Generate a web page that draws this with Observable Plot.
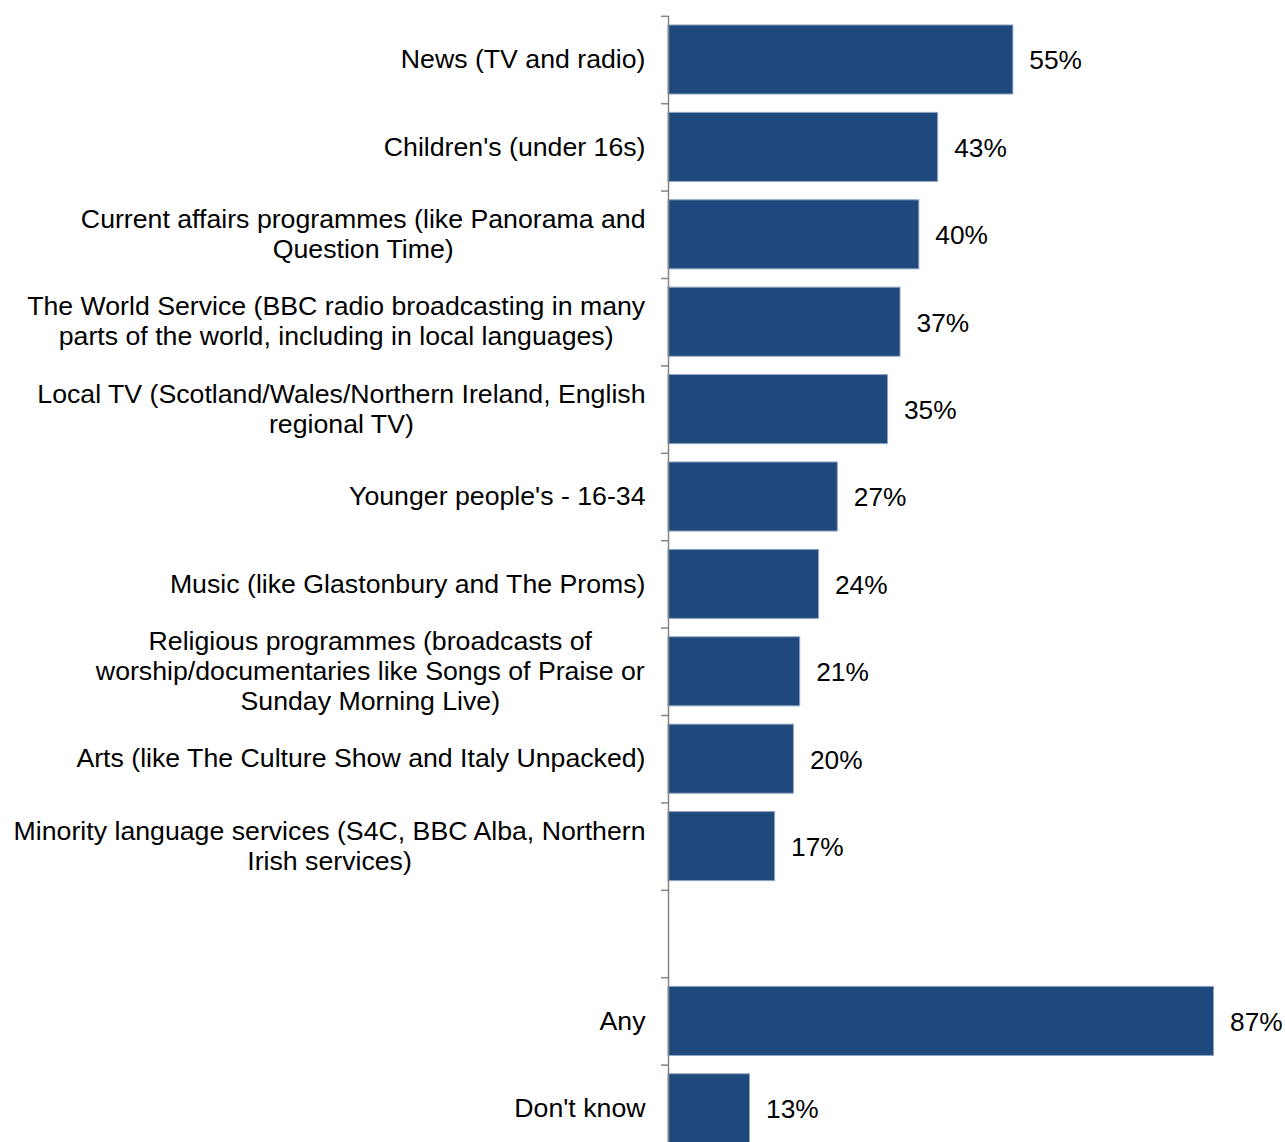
<!DOCTYPE html>
<html><head><meta charset="utf-8">
<script src="https://cdn.jsdelivr.net/npm/d3@7"></script>
<script src="https://cdn.jsdelivr.net/npm/@observablehq/plot@0.6"></script>
<style>html,body{margin:0;padding:0;background:#fff;overflow:hidden}</style>
</head><body><div id="chart"></div>
<script>
const categories = [
  "News (TV and radio)",
  "Children's (under 16s)",
  "Current affairs programmes (like Panorama and\nQuestion Time)",
  "The World Service (BBC radio broadcasting in many\nparts of the world, including in local languages)",
  "Local TV (Scotland/Wales/Northern Ireland, English\nregional TV)",
  "Younger people's - 16-34",
  "Music (like Glastonbury and The Proms)",
  "Religious programmes (broadcasts of\nworship/documentaries like Songs of Praise or\nSunday Morning Live)",
  "Arts (like The Culture Show and Italy Unpacked)",
  "Minority language services (S4C, BBC Alba, Northern\nIrish services)",
  " ",
  "Any",
  "Don't know"
];
const values = [55, 43, 40, 37, 35, 27, 24, 21, 20, 17, null, 87, 13];

const data = categories.map((c, i) => ({category: c, value: values[i]}));
const bars = data.filter(d => d.value != null);

const W = 1285, mTop = 15.8, mLeft = 668, mRight = 2.5;
const step = 87.4;
const H = mTop + step * categories.length;
const xMax = 98;
const pxPerUnit = (W - mLeft - mRight) / xMax;
const tickLen = 7 / pxPerUnit;

const chart = Plot.plot({
  width: W,
  height: H,
  marginTop: mTop,
  marginBottom: 0,
  marginLeft: mLeft,
  marginRight: mRight,
  style: {fontFamily: "'Liberation Sans', Arial, sans-serif", background: "#fff"},
  x: {domain: [0, xMax], axis: null},
  y: {domain: categories, axis: null, paddingInner: 0.21, paddingOuter: 0.105, round: false},
  marks: [
    Plot.barX(bars, {x: "value", y: "category", fill: "#1f497d", stroke: "#8fa3c2", strokeWidth: 1}),
    Plot.ruleY(categories, {y: d => d, x1: -tickLen, x2: 0, dy: -step / 2, stroke: "#868686", strokeWidth: 1.5}),
    Plot.ruleX([0], {stroke: "#868686", strokeWidth: 1.5}),
    Plot.text(categories, {x: 0, y: d => d, text: d => d, textAnchor: "end", dx: -23, dy: -1.5, fontSize: 26.7, lineHeight: 1.13, fill: "#000"}),
    Plot.text(bars, {x: "value", y: "category", text: d => d.value + "%", textAnchor: "start", dx: 16, dy: 1, fontSize: 26.3, fill: "#000"})
  ]
});
document.getElementById("chart").appendChild(chart);

// Center multi-line labels on their widest line, keeping the right edge at the anchor
const multi = new Set(categories.filter(c => c.includes("\n")).map(c => c.replace(/\n/g, "")));
d3.select(chart).selectAll("text").each(function() {
  if (!multi.has(this.textContent)) return;
  const w = this.getBBox().width;
  const t = this.getAttribute("transform") || "";
  this.setAttribute("text-anchor", "middle");
  this.style.textAnchor = "middle";
  d3.select(this).selectAll("tspan").attr("text-anchor", "middle").style("text-anchor", "middle");
  this.setAttribute("transform", (t + ` translate(${-w / 2},0)`).trim());
});
</script>
</body></html>
